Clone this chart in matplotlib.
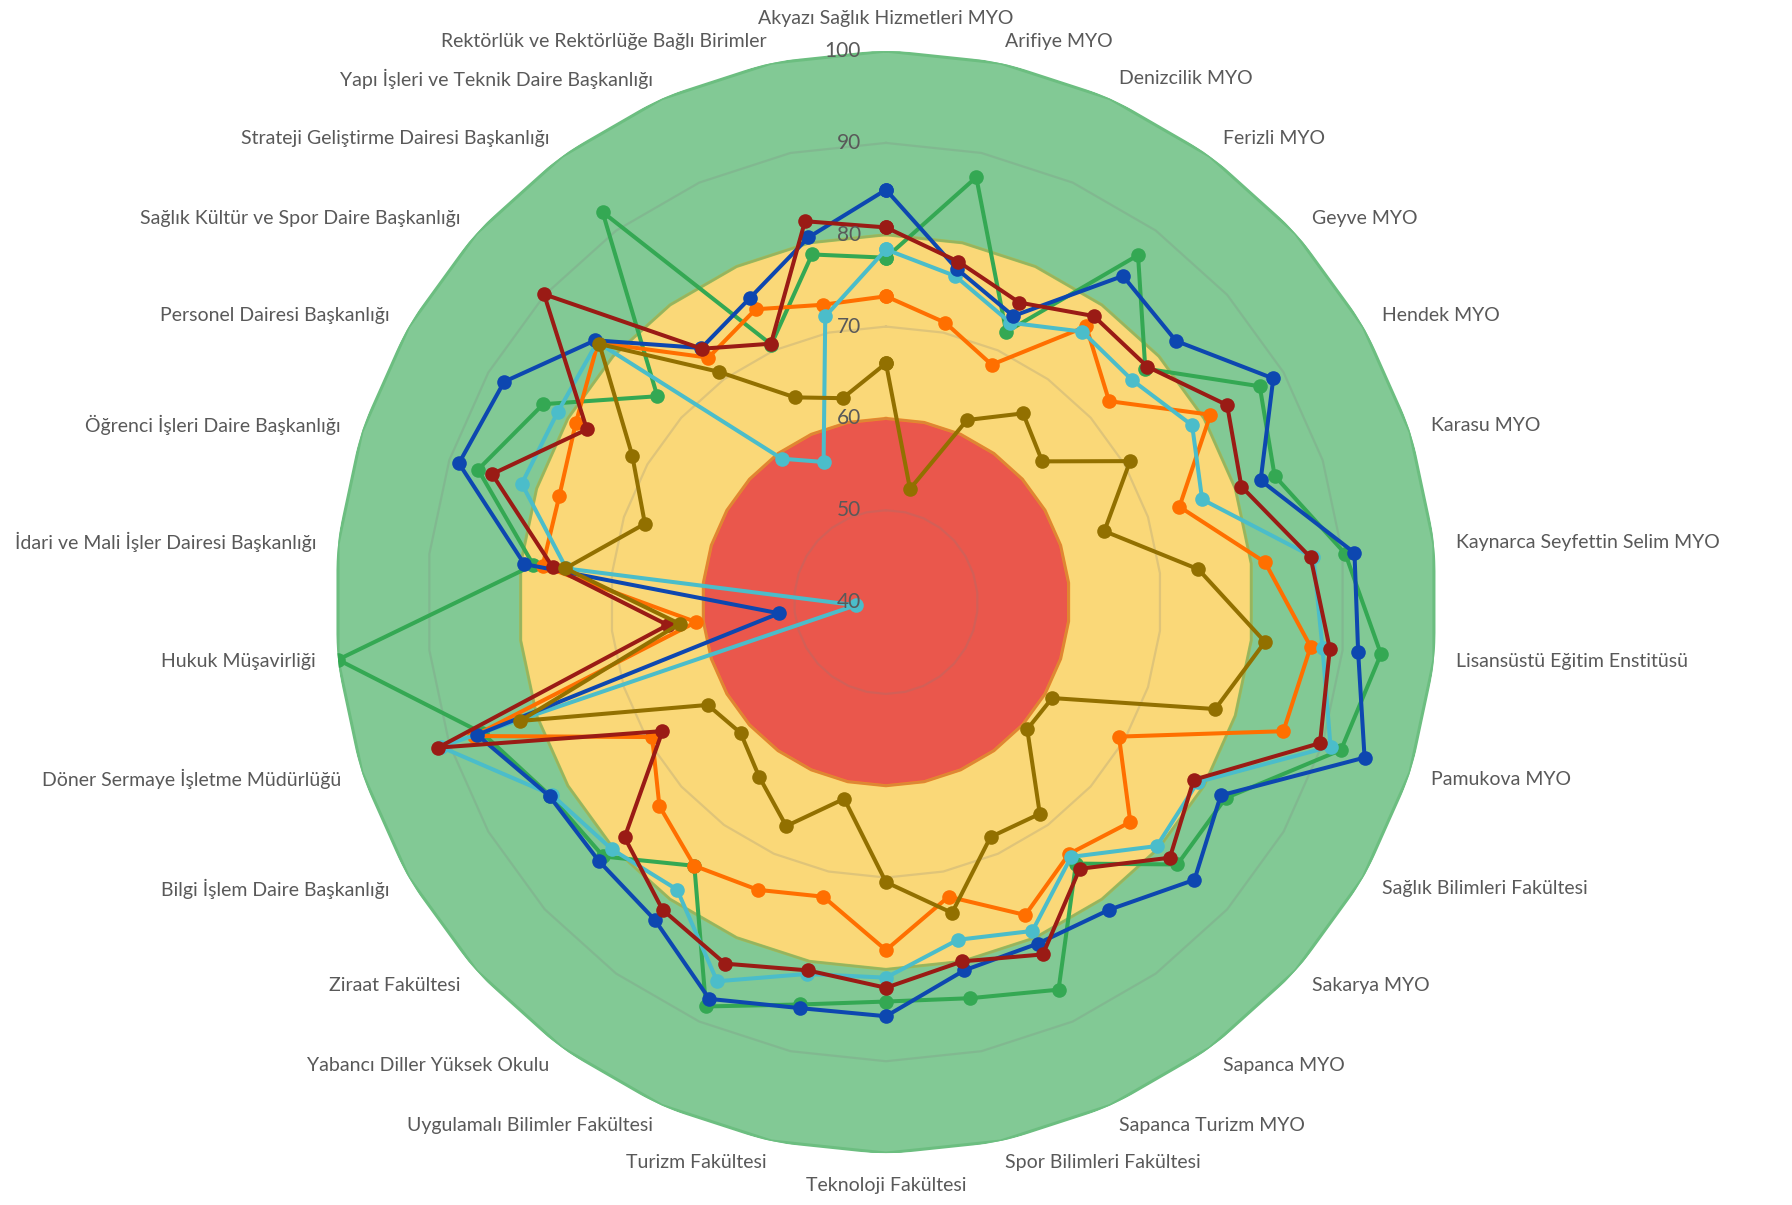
import numpy as np
import matplotlib
matplotlib.use('Agg')
import matplotlib.pyplot as plt

plt.rcParams['font.family'] = ['Lato', 'DejaVu Sans']

# birimler (saat yönünde, tepeden başlayarak)
birimler = [
    'Akyazı Sağlık Hizmetleri MYO', 'Arifiye MYO', 'Denizcilik MYO', 'Ferizli MYO',
    'Geyve MYO', 'Hendek MYO', 'Karasu MYO', 'Kaynarca Seyfettin Selim MYO',
    'Lisansüstü Eğitim Enstitüsü', 'Pamukova MYO', 'Sağlık Bilimleri Fakültesi',
    'Sakarya MYO', 'Sapanca MYO', 'Sapanca Turizm MYO', 'Spor Bilimleri Fakültesi',
    'Teknoloji Fakültesi', 'Turizm Fakültesi', 'Uygulamalı Bilimler Fakültesi',
    'Yabancı Diller Yüksek Okulu', 'Ziraat Fakültesi', 'Bilgi İşlem Daire Başkanlığı',
    'Döner Sermaye İşletme Müdürlüğü', 'Hukuk Müşavirliği',
    'İdari ve Mali İşler Dairesi Başkanlığı', 'Öğrenci İşleri Daire Başkanlığı',
    'Personel Dairesi Başkanlığı', 'Sağlık Kültür ve Spor Daire Başkanlığı',
    'Strateji Geliştirme Dairesi Başkanlığı', 'Yapı İşleri ve Teknik Daire Başkanlığı',
    'Rektörlük ve Rektörlüğe Bağlı Birimler',
]

# seri değerleri
yesil = [77.5, 87.3, 72.2, 86.7, 78.0, 87.0, 84.5, 90.3, 94.2, 92.1,
         82.7, 82.7, 75.2, 86.2, 84.1, 83.5, 84.8, 88.2, 75.5, 81.4,
         82.2, 86.2, 100.0, 78.6, 86.7, 83.1, 73.5, 92.5, 70.7, 78.7]
turuncu = [73.3, 71.1, 68.3, 77.1, 72.7, 80.8, 73.6, 81.5, 86.5, 85.5,
           69.3, 75.8, 73.9, 77.3, 72.8, 77.9, 72.8, 74.3, 75.5, 73.2,
           69.4, 87.2, 60.8, 77.6, 77.4, 79.0, 82.2, 72.9, 74.9, 73.1]
acik_mavi = [78.4, 76.3, 73.3, 76.4, 76.1, 78.5, 76.2, 86.8, 87.8, 90.9,
             79.2, 79.7, 74.3, 79.2, 77.6, 80.9, 81.4, 85.2, 78.7, 80.2,
             82.0, 91.0, 43.3, 75.0, 81.7, 81.3, 82.3, 59.3, 56.7, 71.8]
mavi = [84.9, 77.1, 74.1, 83.9, 82.5, 88.7, 82.9, 91.3, 91.7, 94.8,
        82.1, 85.2, 81.4, 80.7, 81.0, 85.1, 85.2, 87.3, 82.8, 82.1,
        82.3, 86.8, 51.7, 79.6, 88.9, 88.0, 82.6, 74.2, 76.3, 80.6]
bordo = [80.8, 77.9, 75.7, 78.5, 78.3, 82.9, 80.7, 86.5, 88.6, 89.7,
         78.7, 81.6, 75.9, 82.0, 80.0, 82.0, 81.0, 83.1, 81.4, 78.3,
         68.1, 91.3, 63.9, 76.5, 85.1, 77.6, 90.1, 74.1, 70.8, 82.4]
haki = [66.0, 52.6, 61.7, 65.4, 62.9, 70.7, 65.0, 74.2, 81.5, 77.7,
        60.9, 60.7, 68.5, 68.0, 74.6, 70.5, 61.9, 66.7, 63.5, 61.3,
        62.4, 81.9, 62.6, 75.1, 67.6, 71.9, 82.0, 71.0, 64.4, 62.7]

# arka plan bölgeleri
bolge_sinir = [100, 80, 60]
bolge_renk = ['#82C995', '#FAD878', '#EA574C']
bolge_kenar = ['#6CBE80', '#9FC257', '#F58A22']

seviyeler = [40, 50, 60, 70, 80, 90, 100]

seriler = [
    (yesil, '#34A853'),
    (turuncu, '#FF6F00'),
    (acik_mavi, '#4BBDCA'),
    (mavi, '#0D47B0'),
    (bordo, '#9A1B15'),
    (haki, '#927000'),
]

n = len(birimler)
aci = np.arange(n) * 2 * np.pi / n
aci_k = np.append(aci, aci[0])

fig = plt.figure(figsize=(17.92, 12.05), dpi=100)
ax = fig.add_axes([0.1869, 0.0431, 0.615, 0.9145], projection='polar')
ax.set_theta_offset(np.pi / 2)
ax.set_theta_direction(-1)
ax.set_ylim(40, 100)
ax.grid(False)
ax.set_xticks([])
ax.set_yticks([])
ax.spines['polar'].set_visible(False)
ax.patch.set_alpha(0)

for s, fc, ec in zip(bolge_sinir, bolge_renk, bolge_kenar):
    r = [s] * (n + 1)
    ax.fill(aci_k, r, color=fc, zorder=1)
    ax.plot(aci_k, r, color=ec, lw=2.2, zorder=1.5)

for lv in seviyeler[1:-1]:
    ax.plot(aci_k, [lv] * (n + 1), color='#7F7F7F', alpha=0.22, lw=1.6, zorder=2)

for i, (deger, renk) in enumerate(seriler):
    v = list(deger) + [deger[0]]
    ax.plot(aci_k, v, color=renk, lw=2.9, marker='o', markersize=10.5,
            markeredgewidth=0, zorder=3 + i)

# eksen değerleri
for lv in seviyeler:
    ax.annotate(str(lv), xy=(0, lv), xytext=(-25, 0), textcoords='offset pixels',
                ha='right', va='center', fontsize=15, color='#595959', zorder=20)

# birim adları
for a, ad in zip(aci, birimler):
    sx, sy = np.sin(a), np.cos(a)
    if abs(sx) < 0.01:
        ha = 'center'
        va = 'bottom' if sy > 0 else 'top'
        off = (0, 24 * sy)
    else:
        ha = 'left' if sx > 0 else 'right'
        va = 'center'
        off = (22 * sx, 22 * sy)
    ax.annotate(ad, xy=(a, 100), xytext=off, textcoords='offset pixels',
                ha=ha, va=va, fontsize=14, color='#595959', annotation_clip=False)

fig.savefig('out.png', dpi=100, facecolor='white')
